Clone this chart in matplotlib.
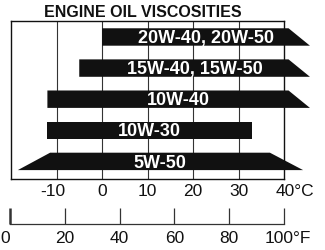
import matplotlib
matplotlib.use('Agg')
import matplotlib.pyplot as plt
from matplotlib.patches import Polygon

plt.rcParams['font.family'] = ['Liberation Sans', 'DejaVu Sans']

# oil grades, top to bottom, with their temperature range in deg C
oils = ['20W-40, 20W-50', '15W-40, 15W-50', '10W-40', '10W-30', '5W-50']
low_c = [0, -5, -12, -12, -11.4]
high_c = [41, 41, 41, 33, 36.9]
# extra length of the slanted ends along the bottom edge of the bar
left_flare = [0, 0, 0, 0, 7.1]
right_flare = [4.7, 4.7, 4.7, 0, 7.3]

celsius_ticks = [-10, 0, 10, 20, 30, 40]
celsius_labels = ['-10', '0', '10', '20', '30', '40°C']
fahrenheit_ticks = [0, 20, 40, 60, 80, 100]
fahrenheit_labels = ['0', '20', '40', '60', '80', '100°F']

W, H = 325, 251
fig = plt.figure(figsize=(W / 100, H / 100), dpi=100)
ax = fig.add_axes([11 / W, 1 - 180 / H, 273 / W, 158 / H])
ax.set_xlim(-20, 40)
ax.set_ylim(4.566, -0.514)
ax.set_xticks([])
ax.set_yticks([])
for s in ax.spines.values():
    s.set_linewidth(1.0)
    s.set_color('#111111')

for c in celsius_ticks[:-1]:
    ax.axvline(c, color='#333333', lw=0.8, zorder=1)

half = 0.28
for i, name in enumerate(oils):
    top, bot = i - half, i + half
    pts = [(low_c[i] - left_flare[i], bot), (low_c[i], top),
           (high_c[i], top), (high_c[i] + right_flare[i], bot)]
    ax.add_patch(Polygon(pts, closed=True, facecolor='#111111', edgecolor='none',
                         zorder=2, clip_on=False))
    mid = (low_c[i] - left_flare[i] / 2 + high_c[i] + right_flare[i] / 2) / 2
    if right_flare[i] > 0 and left_flare[i] == 0:
        mid += 1.2
    ax.text(mid, i + 0.02, name, color='white', fontsize=13, fontweight='bold',
            ha='center', va='center', zorder=3)

# celsius labels under the box
for c, lab in zip(celsius_ticks, celsius_labels):
    if lab.endswith('C'):
        dx, ha = -8, 'left'
    elif lab.startswith('-'):
        dx, ha = -4, 'center'
    else:
        dx, ha = 0, 'center'
    ax.annotate(lab, xy=(c, 0), xycoords=('data', 'axes fraction'),
                xytext=(dx, -12), textcoords='offset pixels',
                ha=ha, va='center', fontsize=12.5, color='#111111')

# fahrenheit scale
axf = fig.add_axes([10 / W, 1 - 224.5 / H, 274 / W, 0.001])
axf.set_xlim(0, 100)
axf.set_yticks([])
for k in ['top', 'left', 'right']:
    axf.spines[k].set_visible(False)
axf.spines['bottom'].set_color('#333333')
axf.spines['bottom'].set_linewidth(0.9)
axf.set_xticks(fahrenheit_ticks)
axf.set_xticklabels([])
axf.tick_params(axis='x', direction='in', length=11.5, width=0.9, color='#333333')
axf.xaxis.get_ticklines()[0].set_markeredgewidth(1.8)
axf.xaxis.get_ticklines()[0].set_color('#111111')
for f, lab in zip(fahrenheit_ticks, fahrenheit_labels):
    if lab.endswith('F'):
        dx, ha = -19, 'left'
    elif f == 0:
        dx, ha = -5, 'center'
    else:
        dx, ha = 0, 'center'
    axf.annotate(lab, xy=(f, 0), xycoords=('data', 'axes fraction'),
                 xytext=(dx, -14), textcoords='offset pixels',
                 ha=ha, va='center', fontsize=12.5, color='#111111')

fig.text(143 / W, 1 - 12.5 / H, 'ENGINE OIL VISCOSITIES', ha='center', va='center',
         fontsize=11.5, fontweight='bold', color='#111111')

fig.savefig('out.png', dpi=100)
